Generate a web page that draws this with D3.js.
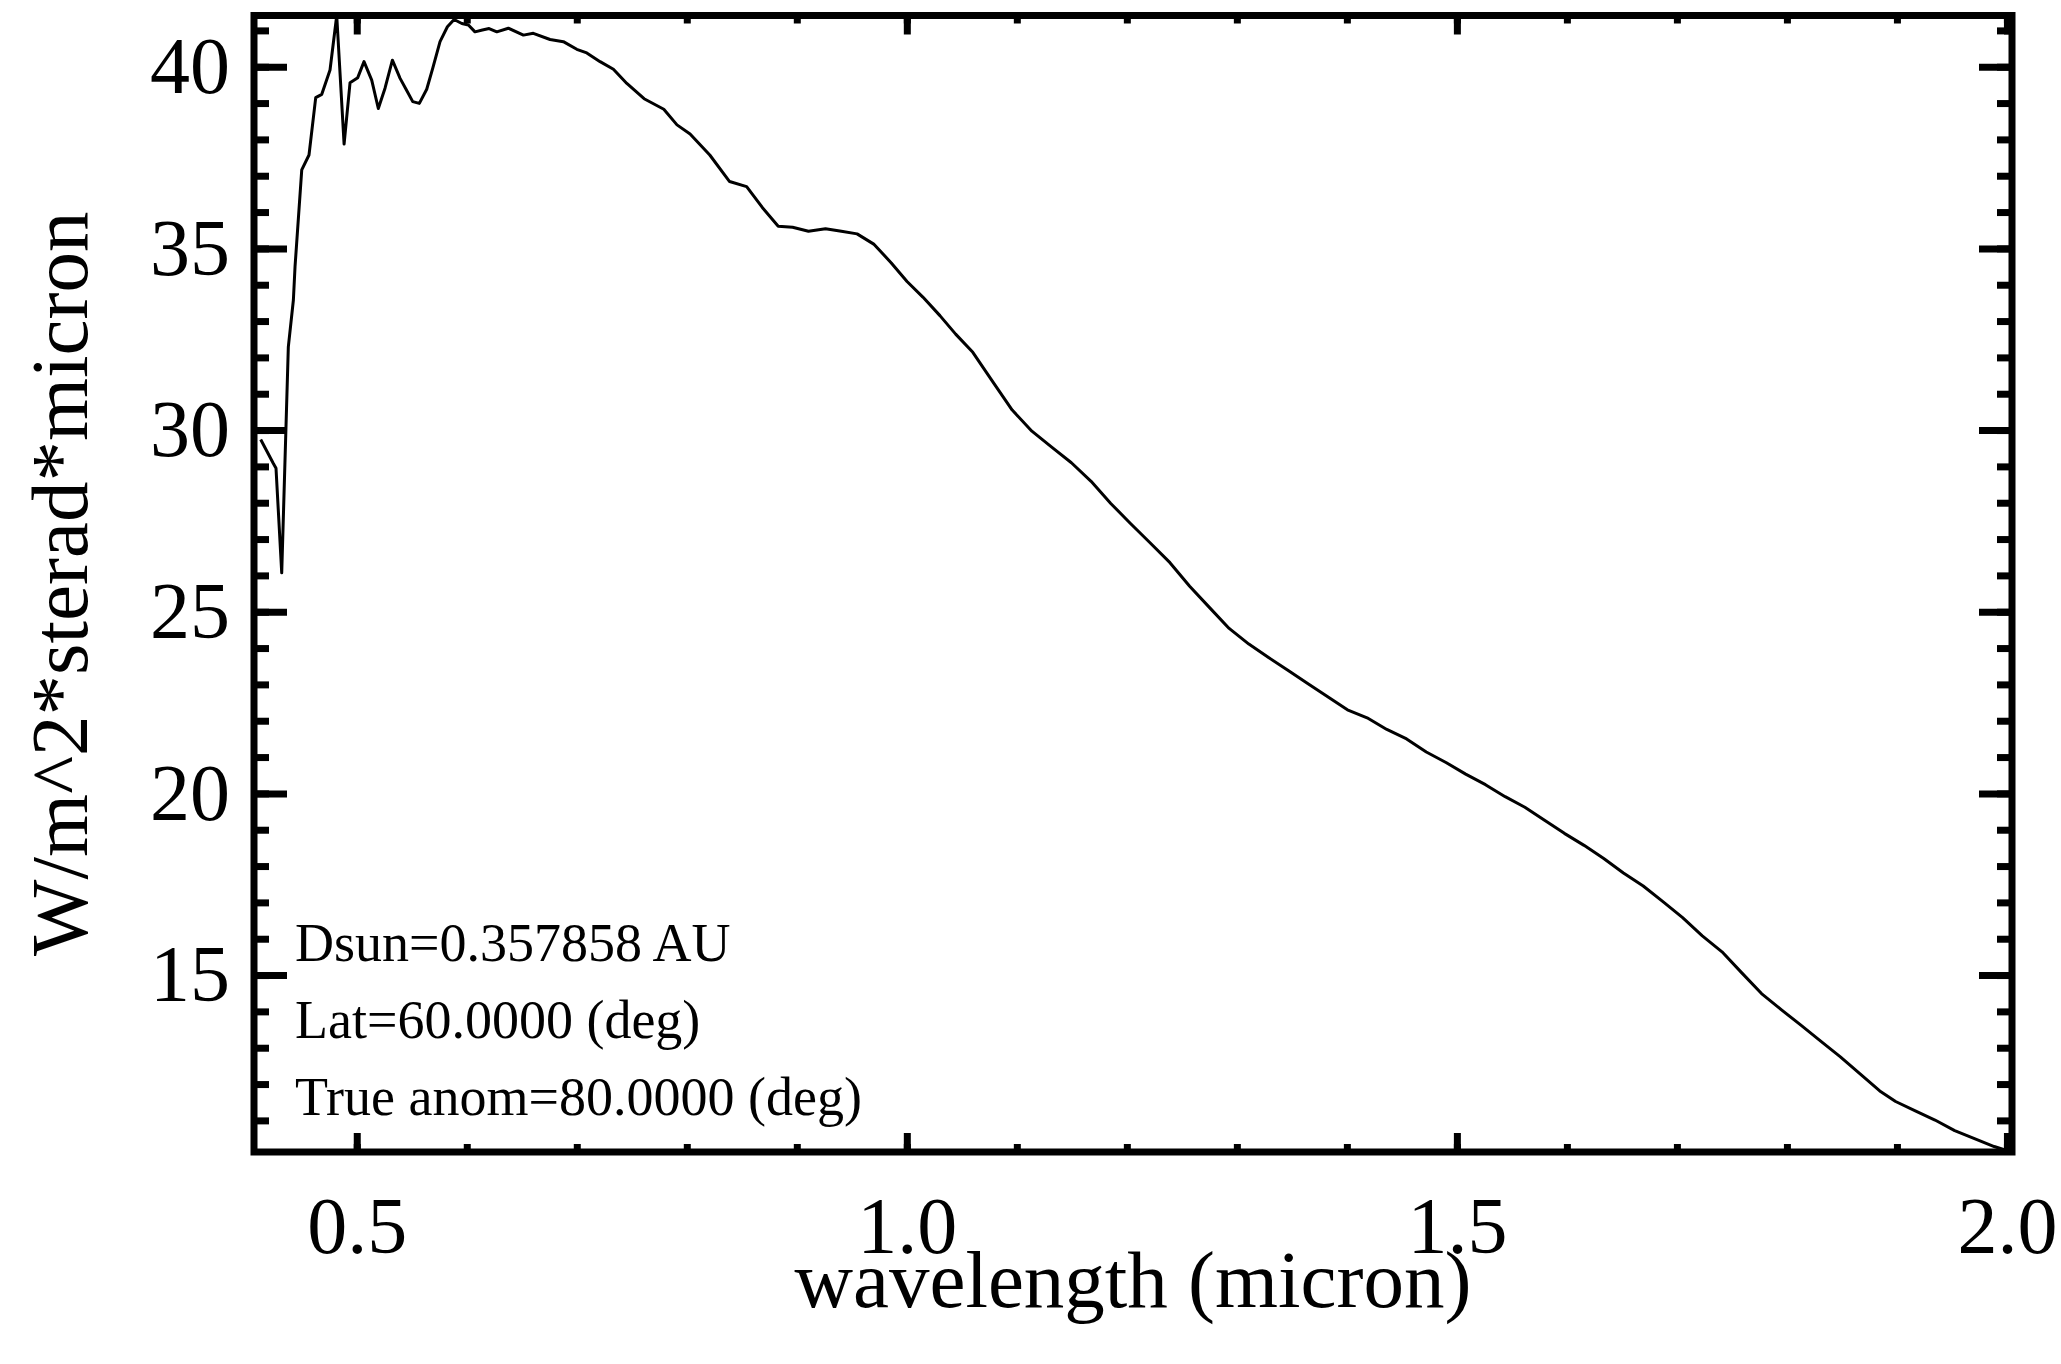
<!DOCTYPE html>
<html>
<head>
<meta charset="utf-8">
<script src="https://cdn.jsdelivr.net/npm/d3@7"></script>
<style>
  body { margin: 0; background: #fff; }
  svg { display: block; font-family: "Liberation Serif", "Times New Roman", serif; }
  .axis path.domain { display: none; }
  .axis line { stroke: #000; stroke-width: 7; }
  .axis text { font-size: 80px; fill: #000; font-family: "Liberation Serif", serif; }
</style>
</head>
<body>
<svg id="chart"></svg>
<script>
// spectrum
const wavelength = [
  0.4127, 0.4242, 0.4266, 0.4318, 0.4378, 0.4424, 0.4439, 0.4500, 0.4566, 0.4627,
  0.4682, 0.4757, 0.4818, 0.4885, 0.4939, 0.5009, 0.5066, 0.5136, 0.5196, 0.5257,
  0.5324, 0.5394, 0.5448, 0.5509, 0.5569, 0.5636, 0.5691, 0.5757, 0.5824, 0.5885,
  0.5955, 0.6015, 0.6075, 0.6142, 0.6203, 0.6273, 0.6378, 0.6515, 0.6605, 0.6757,
  0.6878, 0.7000, 0.7091, 0.7212, 0.7333, 0.7455, 0.7612, 0.7791, 0.7911, 0.8030,
  0.8209, 0.8389, 0.8544, 0.8688, 0.8831, 0.8962, 0.9106, 0.9261, 0.9405, 0.9548,
  0.9703, 0.9859, 1.0002, 1.0146, 1.0301, 1.0444, 1.0600, 1.0779, 1.0958, 1.1137,
  1.1317, 1.1496, 1.1675, 1.1854, 1.2033, 1.2213, 1.2392, 1.2571, 1.2750, 1.2930,
  1.3109, 1.3288, 1.3467, 1.3647, 1.3826, 1.4005, 1.4184, 1.4363, 1.4543, 1.4722,
  1.4901, 1.5080, 1.5260, 1.5439, 1.5618, 1.5797, 1.5977, 1.6156, 1.6335, 1.6514,
  1.6694, 1.6873, 1.7052, 1.7231, 1.7410, 1.7590, 1.7769, 1.7948, 1.8127, 1.8307,
  1.8486, 1.8665, 1.8844, 1.8988, 1.9167, 1.9346, 1.9525, 1.9705, 1.9884, 2.0040
];
const radiance = [
  29.74, 29.08, 28.95, 26.07, 32.29, 33.58, 34.50, 37.16, 37.57, 39.15,
  39.24, 39.91, 41.41, 37.87, 39.56, 39.70, 40.14, 39.63, 38.85, 39.41,
  40.18, 39.68, 39.38, 39.04, 38.99, 39.38, 39.96, 40.69, 41.10, 41.30,
  41.19, 41.15, 40.96, 41.01, 41.05, 40.96, 41.06, 40.87, 40.92, 40.75,
  40.69, 40.48, 40.38, 40.14, 39.93, 39.54, 39.12, 38.83, 38.40, 38.15,
  37.57, 36.84, 36.70, 36.12, 35.61, 35.58, 35.47, 35.54, 35.47, 35.40,
  35.11, 34.60, 34.09, 33.66, 33.15, 32.64, 32.14, 31.34, 30.55, 29.97,
  29.53, 29.10, 28.59, 27.98, 27.43, 26.89, 26.35, 25.70, 25.12, 24.54,
  24.11, 23.74, 23.38, 23.02, 22.66, 22.30, 22.08, 21.76, 21.50, 21.14,
  20.85, 20.53, 20.24, 19.91, 19.62, 19.26, 18.90, 18.57, 18.21, 17.81,
  17.45, 17.02, 16.58, 16.08, 15.64, 15.06, 14.49, 14.05, 13.62, 13.18,
  12.75, 12.28, 11.81, 11.52, 11.26, 11.01, 10.72, 10.50, 10.28, 10.13
];

const xTickValues = [0.5, 1.0, 1.5, 2.0];
const xTickLabels = ["0.5", "1.0", "1.5", "2.0"];
const yTickValues = [15, 20, 25, 30, 35, 40];
const yTickLabels = ["15", "20", "25", "30", "35", "40"];
const xMinorStep = 0.1;
const yMinorStep = 1;

const infoLines = ["Dsun=0.357858 AU", "Lat=60.0000 (deg)", "True anom=80.0000 (deg)"];
const xTitle = "wavelength (micron)";
const yTitle = "W/m^2*sterad*micron";

const width = 2061, height = 1364;
const plotLeft = 254, plotRight = 2012, plotTop = 15.5, plotBottom = 1152;

const svg = d3.select("#chart").attr("width", width).attr("height", height);

const x = d3.scaleLinear().domain([0.4066, 2.0046]).range([plotLeft, plotRight]);
const y = d3.scaleLinear().domain([10.13, 41.41]).range([plotBottom, plotTop]);

const xMinor = d3.range(0.5, 2.0001, xMinorStep);
const yMinor = d3.range(11, 41.5, yMinorStep);

// minor ticks on all four sides
svg.append("g").attr("class", "axis").attr("transform", `translate(0,${plotBottom})`)
  .call(d3.axisBottom(x).tickValues(xMinor).tickSize(-8).tickFormat(""));
svg.append("g").attr("class", "axis").attr("transform", `translate(0,${plotTop})`)
  .call(d3.axisTop(x).tickValues(xMinor).tickSize(-8).tickFormat(""));
svg.append("g").attr("class", "axis").attr("transform", `translate(${plotLeft},0)`)
  .call(d3.axisLeft(y).tickValues(yMinor).tickSize(-15).tickFormat(""));
svg.append("g").attr("class", "axis").attr("transform", `translate(${plotRight},0)`)
  .call(d3.axisRight(y).tickValues(yMinor).tickSize(-15).tickFormat(""));

// major ticks with labels
svg.append("g").attr("class", "axis").attr("transform", `translate(0,${plotBottom})`)
  .call(d3.axisBottom(x).tickValues(xTickValues).tickSize(-19).tickPadding(44)
    .tickFormat((d, i) => xTickLabels[i]));
svg.append("g").attr("class", "axis").attr("transform", `translate(0,${plotTop})`)
  .call(d3.axisTop(x).tickValues(xTickValues).tickSize(-19).tickFormat(""));
svg.append("g").attr("class", "axis").attr("transform", `translate(${plotLeft},0)`)
  .call(d3.axisLeft(y).tickValues(yTickValues).tickSize(-33).tickPadding(24)
    .tickFormat((d, i) => yTickLabels[i]));
svg.append("g").attr("class", "axis").attr("transform", `translate(${plotRight},0)`)
  .call(d3.axisRight(y).tickValues(yTickValues).tickSize(-33).tickFormat(""));

// spectrum
const line = d3.line().x((d, i) => x(wavelength[i])).y(d => y(d));
svg.append("path")
  .attr("d", line(radiance))
  .attr("fill", "none")
  .attr("stroke", "#000")
  .attr("stroke-width", 3)
  .attr("stroke-linejoin", "round");

// frame
svg.append("rect")
  .attr("x", plotLeft).attr("y", plotTop)
  .attr("width", plotRight - plotLeft).attr("height", plotBottom - plotTop)
  .attr("fill", "none").attr("stroke", "#000").attr("stroke-width", 7);

// annotation
svg.append("g").selectAll("text")
  .data(infoLines)
  .enter()
  .append("text")
  .attr("x", 295)
  .attr("y", (d, i) => 961 + i * 77)
  .attr("font-size", 54)
  .text(d => d);

// axis titles
svg.append("text")
  .attr("x", (plotLeft + plotRight) / 2)
  .attr("y", 1307)
  .attr("text-anchor", "middle")
  .attr("font-size", 81)
  .text(xTitle);

svg.append("text")
  .attr("transform", `translate(87,${(plotTop + plotBottom) / 2}) rotate(-90)`)
  .attr("text-anchor", "middle")
  .attr("font-size", 81)
  .text(yTitle);
</script>
</body>
</html>
